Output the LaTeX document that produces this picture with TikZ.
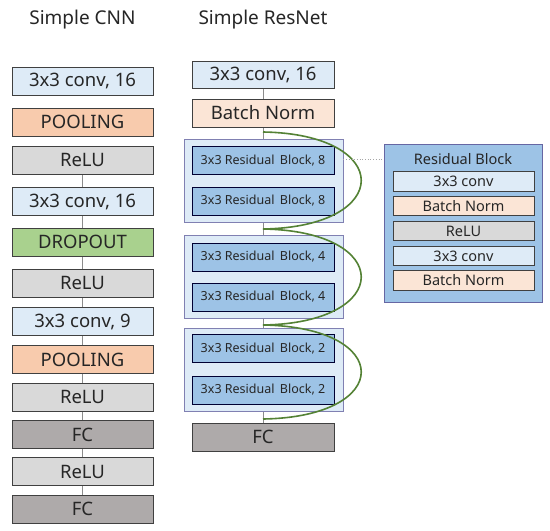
\documentclass[tikz,border=0pt]{standalone}
\usepackage{fontspec}
\setmainfont{Noto Sans}
\begin{document}
\begin{tikzpicture}[x=1pt,y=-1pt,
  box/.style={draw=black!75, line width=0.9pt, inner sep=0pt, font=\fontsize{18.5}{20}\selectfont, text=black!85},
  cnn/.style={box, minimum width=141pt, minimum height=28pt},
  res/.style={box, minimum width=142pt, minimum height=28pt},
  rb/.style={box, draw=black!80!blue, fill=rbfill, minimum width=142pt, minimum height=28pt, font=\fontsize{12.5}{14}\selectfont},
  grp/.style={draw=black!60!blue!50, line width=0.9pt, fill=convfill, minimum width=159pt, minimum height=83pt, inner sep=0pt},
  rbi/.style={box, minimum width=141pt, minimum height=19.5pt, font=\fontsize{14.5}{16}\selectfont},
  link/.style={draw=black!45, line width=0.6pt},
  skip/.style={draw=skipgreen, line width=1.6pt},
  title/.style={font=\fontsize{19}{21}\selectfont, text=black!85}
]
\definecolor{convfill}{HTML}{DEEBF7}
\definecolor{poolfill}{HTML}{F8CBAD}
\definecolor{bnfill}{HTML}{FBE5D6}
\definecolor{relufill}{HTML}{D9D9D9}
\definecolor{dropfill}{HTML}{A9D18E}
\definecolor{fcfill}{HTML}{AEAAAA}
\definecolor{rbfill}{HTML}{9DC3E6}
\definecolor{panelfill}{HTML}{9DC3E6}
\definecolor{skipgreen}{HTML}{548235}
\useasboundingbox[fill=white] (0,0) rectangle (550,531);

% titles
\node[title] (t1) at (82.5,20) {Simple CNN};
\node[title] (t2) at (263,20) {Simple ResNet};

% left column connectors
\coordinate (la) at (82.5,174);
\coordinate (lb) at (82.5,495);
\draw[link] (la) -- (lb);

% left column
\node[cnn, fill=convfill] (c1) at (82.5,81) {3x3 conv, 16};
\node[cnn, fill=poolfill] (c2) at (82.5,122) {POOLING};
\node[cnn, fill=relufill] (c3) at (82.5,160) {ReLU};
\node[cnn, fill=convfill] (c4) at (82.5,201.5) {3x3 conv, 16};
\node[cnn, fill=dropfill] (c5) at (82.5,242) {DROPOUT};
\node[cnn, fill=relufill] (c6) at (82.5,283) {ReLU};
\node[cnn, fill=convfill] (c7) at (82.5,321.5) {3x3 conv, 9};
\node[cnn, fill=poolfill] (c8) at (82.5,359.5) {POOLING};
\node[cnn, fill=relufill] (c9) at (82.5,397) {ReLU};
\node[cnn, fill=fcfill] (c10) at (82.5,434.5) {FC};
\node[cnn, fill=relufill] (c11) at (82.5,471.5) {ReLU};
\node[cnn, fill=fcfill] (c12) at (82.5,509) {FC};

% middle column connector
\coordinate (ma) at (263,88);
\coordinate (mb) at (263,423);
\draw[link] (ma) -- (mb);

\node[res, fill=convfill, minimum height=27pt] (r1) at (263,74.5) {3x3 conv, 16};
\node[res, fill=bnfill] (r2) at (263,113) {Batch Norm};

\node[grp] (g1) at (263.5,180.5) {};
\node[rb] (b11) at (263,160.5) {3x3 Residual\, Block, 8};
\node[rb] (b12) at (263,201) {3x3 Residual\, Block, 8};

\node[grp] (g2) at (263.5,276.5) {};
\node[rb] (b21) at (263,257) {3x3 Residual\, Block, 4};
\node[rb] (b22) at (263,297) {3x3 Residual\, Block, 4};

\node[grp] (g3) at (263.5,369.5) {};
\node[rb] (b31) at (263,348.5) {3x3 Residual\, Block, 2};
\node[rb] (b32) at (263,390) {3x3 Residual\, Block, 2};

\node[res, fill=fcfill] (r3) at (263,437) {FC};

% skip connections
\coordinate (s0) at (263,132);
\coordinate (s1) at (263,229);
\coordinate (s2) at (263,325);
\coordinate (s3) at (263,419);
\draw[skip] (s0) .. controls (394,134) and (394,227) .. (s1);
\draw[skip] (s1) .. controls (394,231) and (394,323) .. (s2);
\draw[skip] (s2) .. controls (394,327) and (394,417) .. (s3);

% residual block panel
\node[draw=black!60!blue!60, line width=0.9pt, fill=panelfill, minimum width=158pt, minimum height=158pt, inner sep=0pt] (p) at (463,223) {};
\node[font=\fontsize{14.5}{16}\selectfont, text=black!85] (pt) at (463,159) {Residual Block};
\node[rbi, fill=convfill] (p1) at (463.5,181.5) {3x3 conv};
\node[rbi, fill=bnfill] (p2) at (463.5,206) {Batch Norm};
\node[rbi, fill=relufill] (p3) at (463.5,231) {ReLU};
\node[rbi, fill=convfill] (p4) at (463.5,256) {3x3 conv};
\node[rbi, fill=bnfill] (p5) at (463.5,280.5) {Batch Norm};

\draw[draw=black!35, dotted, line width=0.7pt] (g1.east |- pt) -- (p.west |- pt);
\end{tikzpicture}
\end{document}
